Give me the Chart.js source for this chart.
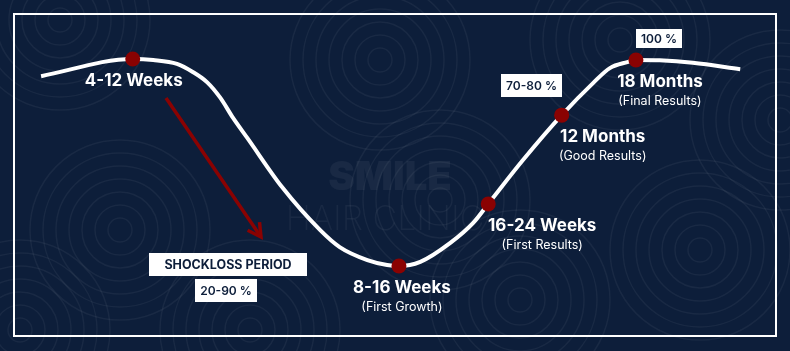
<!DOCTYPE html>
<html>
<head>
<meta charset="utf-8">
<script src="https://cdn.jsdelivr.net/npm/chart.js@4.4.1/dist/chart.umd.min.js"></script>
<style>
    html, body { margin: 0; padding: 0; background: #0d1e3a; }
    #wrap { width: 790px; height: 351px; position: relative; }
</style>
</head>
<body>
<div id="wrap"><canvas id="growthChart" width="790" height="351"></canvas></div>
<script>
// ── data ──────────────────────────────────────────────
// timeline (0-100) vs hair density level (0-100)
const timeline = [5.2, 16.8, 19.4, 22.4, 24.4, 26.2, 27.9, 29.5, 31.3, 35.7, 40.5, 43.0, 46.5, 49.0, 50.5, 53.2, 57.0, 59.9, 61.8, 66.2, 71.1, 75.1, 77.2, 79.4, 80.5, 83.5, 87.7, 93.7];
const density  = [78.3, 83.2, 82.9, 81.8, 79.5, 76.6, 72.1, 66.4, 60.7, 46.7, 34.5, 29.6, 25.9, 24.5, 24.2, 25.4, 30.8, 36.5, 41.9, 54.4, 67.2, 76.4, 80.6, 82.3, 82.9, 82.8, 82.1, 80.3];

const milestoneX = [16.8, 50.5, 61.8, 71.1, 80.5];
const milestoneY = [83.2, 24.2, 41.9, 67.2, 82.9];
const milestoneTitles = ['4-12 Weeks', '8-16 Weeks', '16-24 Weeks', '12 Months', '18 Months'];
const milestoneNotes = ['', '(First Growth)', '(First Results)', '(Good Results)', '(Final Results)'];

const tagTexts = ['SHOCKLOSS PERIOD', '20-90 %', '70-80 %', '100 %'];

const NAVY = '#0d1e3a';
const RED = '#8a0202';
const FONT = 'Inter, "Open Sans", sans-serif';

// ── background: navy + faint swirl pattern + watermark ──
const backdrop = {
    id: 'backdrop',
    beforeDraw(chart) {
        const c = chart.ctx;
        const { width, height } = chart;
        c.save();
        c.fillStyle = NAVY;
        c.fillRect(0, 0, width, height);

        c.strokeStyle = 'rgba(255,255,255,0.05)';
        c.lineWidth = 1.5;
        const centres = [[60, 20], [250, 330], [120, 230], [520, 300], [700, 250], [620, 40], [380, 60], [780, 120], [20, 330], [440, 200]];
        centres.forEach(([cx, cy]) => {
            for (let r = 12; r < 100; r += 13) {
                c.beginPath();
                c.arc(cx, cy, r, 0, Math.PI * 2);
                c.stroke();
            }
        });

        // watermark
        c.fillStyle = 'rgba(255,255,255,0.05)';
        c.textAlign = 'center';
        c.textBaseline = 'middle';
        c.font = '900 40px ' + FONT;
        c.fillText('SMILE', 390, 178);
        c.font = '200 34px ' + FONT;
        c.fillText('HAIR CLINIC', 385, 220);

        // frame
        c.strokeStyle = '#ffffff';
        c.lineWidth = 2;
        c.strokeRect(14, 14, 762, 322);
        c.restore();
    }
};

// ── labels, tags, arrow ───────────────────────────────
const overlay = {
    id: 'overlay',
    afterDatasetsDraw(chart) {
        const c = chart.ctx;
        const xs = chart.scales.x, ys = chart.scales.y;
        const dx = [1, 3, 54, 41, 24];
        c.save();
        c.textAlign = 'center';
        c.textBaseline = 'middle';
        milestoneTitles.forEach((t, i) => {
            const px = xs.getPixelForValue(milestoneX[i]) + dx[i];
            const py = ys.getPixelForValue(milestoneY[i]);
            c.fillStyle = '#ffffff';
            c.font = '700 17px ' + FONT;
            c.fillText(t, px, py + 22);
            if (milestoneNotes[i]) {
                c.font = '400 12.5px ' + FONT;
                c.fillText(milestoneNotes[i], px, py + 41);
            }
        });

        // white tags
        const boxes = [[149, 253, 158, 23], [195, 279, 62, 23], [501, 74, 61, 23], [636, 29, 46, 19]];
        tagTexts.forEach((t, i) => {
            const [bx, by, bw, bh] = boxes[i];
            c.fillStyle = '#ffffff';
            c.fillRect(bx, by, bw, bh);
            c.fillStyle = NAVY;
            c.font = (i === 0 ? '700 12.5px ' : '600 12px ') + FONT;
            c.fillText(t, bx + bw / 2, by + bh / 2 + 0.5);
        });

        // shockloss arrow
        const x0 = 166, y0 = 98, x1 = 261, y1 = 237;
        const ang = Math.atan2(y1 - y0, x1 - x0);
        c.strokeStyle = RED;
        c.lineWidth = 3.5;
        c.beginPath();
        c.moveTo(x0, y0);
        c.lineTo(x1, y1);
        c.stroke();
        c.beginPath();
        c.moveTo(x1 - 15 * Math.cos(ang - 0.5), y1 - 15 * Math.sin(ang - 0.5));
        c.lineTo(x1, y1);
        c.lineTo(x1 - 15 * Math.cos(ang + 0.5), y1 - 15 * Math.sin(ang + 0.5));
        c.stroke();
        c.restore();
    }
};

new Chart(document.getElementById('growthChart'), {
    type: 'line',
    data: {
        datasets: [{
            label: 'Milestones',
            data: milestoneX.map((x, i) => ({ x, y: milestoneY[i] })),
            showLine: false,
            pointRadius: 7.5,
            pointBackgroundColor: RED,
            pointBorderWidth: 0,
            order: 0
        }, {
            label: 'Hair growth',
            data: timeline.map((x, i) => ({ x, y: density[i] })),
            borderColor: '#ffffff',
            borderWidth: 4,
            cubicInterpolationMode: 'monotone',
            pointRadius: 0,
            fill: false,
            order: 1
        }]
    },
    options: {
        responsive: false,
        animation: false,
        layout: { padding: 0, autoPadding: false },
        plugins: {
            legend: { display: false },
            tooltip: { enabled: false }
        },
        scales: {
            x: { type: 'linear', min: 0, max: 100, display: false },
            y: { min: 0, max: 100, display: false }
        }
    },
    plugins: [backdrop, overlay]
});
</script>
</body>
</html>
